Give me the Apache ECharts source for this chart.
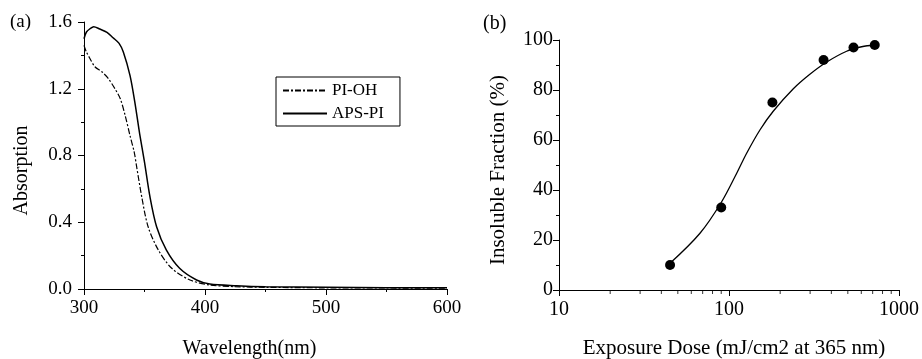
<!DOCTYPE html>
<html>
<head>
<meta charset="utf-8">
<script src="https://cdn.jsdelivr.net/npm/echarts@6/dist/echarts.min.js"></script>
<style>html,body{margin:0;padding:0;background:#fff}#c{width:922px;height:359px}</style>
</head>
<body>
<div id="c"></div>
<script>
// Panel (a): absorption spectra
var apsWavelength = [300, 302, 305, 308, 313, 319, 324, 329, 332.5, 338, 342, 346, 350, 354.5, 360, 368, 379, 393, 404, 426, 450, 500, 550, 600];
var apsAbsorption = [1.50, 1.54, 1.56, 1.572, 1.558, 1.538, 1.506, 1.472, 1.42, 1.28, 1.12, 0.93, 0.76, 0.553, 0.373, 0.234, 0.124, 0.054, 0.030, 0.020, 0.014, 0.010, 0.008, 0.008];
var pohWavelength = [300, 302, 305, 309, 315, 320, 325.6, 330, 334, 338, 341.5, 343.5, 347.7, 353, 361.4, 372.5, 387.6, 404, 425, 450, 500, 550, 600];
var pohAbsorption = [1.46, 1.42, 1.38, 1.332, 1.30, 1.262, 1.20, 1.14, 1.04, 0.92, 0.82, 0.733, 0.553, 0.373, 0.234, 0.124, 0.054, 0.024, 0.014, 0.010, 0.007, 0.006, 0.005];

// Panel (b): insoluble fraction vs exposure dose
var doseMeasured = [45, 90, 180, 360, 540, 720];
var fractionMeasured = [10, 33, 75, 92, 97, 98];
var doseFit = [45, 67.5, 90, 111, 127, 152, 182, 239, 299, 376, 492, 603, 720];
var fractionFit = [10.7, 22.7, 35, 46.7, 54.7, 64, 71.5, 80.5, 86.3, 91.2, 95.5, 97.3, 98];
var logMinorTicks = [20, 30, 40, 50, 60, 70, 80, 90, 200, 300, 400, 500, 600, 700, 800, 900];

function zip(a, b) { return a.map(function (v, i) { return [v, b[i]]; }); }

var FONT = 'Liberation Serif';
var black = '#000';
function axisCommon(fs) {
  return {
    axisLine: { show: true, onZero: false, lineStyle: { color: black, width: 1 } },
    axisTick: { show: true, inside: false, length: 6, lineStyle: { color: black, width: 1 } },
    minorTick: { show: true, splitNumber: 2, length: 3, lineStyle: { color: black, width: 1 } },
    splitLine: { show: false },
    minorSplitLine: { show: false },
    axisLabel: { color: black, fontFamily: FONT, fontSize: fs },
    nameTextStyle: { color: black, fontFamily: FONT, fontSize: fs + 1 },
    nameLocation: 'middle'
  };
}
function merge(a, b) { for (var k in b) a[k] = b[k]; return a; }

var chart = echarts.init(document.getElementById('c'), null, { renderer: 'canvas' });
var option = {
  backgroundColor: '#fff',
  animation: false,
  grid: [
    { left: 84, top: 22, width: 363, height: 267, containLabel: false, outerBoundsMode: 'none' },
    { left: 559, top: 40, width: 340, height: 250, containLabel: false, outerBoundsMode: 'none' }
  ],
  legend: {
    left: 276, top: 77,
    orient: 'vertical',
    data: ['PI-OH', 'APS-PI'],
    borderColor: black, borderWidth: 1, borderRadius: 0,
    padding: [5, 16, 4, 6],
    itemWidth: 44, itemHeight: 10, itemGap: 6,
    itemStyle: { color: 'rgba(0,0,0,0)', borderColor: 'rgba(0,0,0,0)', borderWidth: 0 },
    textStyle: { color: black, fontFamily: FONT, fontSize: 17 }
  },
  graphic: [
    { type: 'text', left: 10, top: 13, style: { text: '(a)', fill: black, font: '19px "Liberation Serif"' } },
    { type: 'text', left: 483, top: 14, style: { text: '(b)', fill: black, font: '20px "Liberation Serif"' } }
  ],
  xAxis: [
    merge(axisCommon(19), {
      type: 'value', gridIndex: 0, min: 300, max: 600, interval: 100,
      name: 'Wavelength(nm)', nameGap: 50,
      nameTextStyle: { color: black, fontFamily: FONT, fontSize: 20, padding: [0, 32, 0, 0] },
      axisLabel: { color: black, fontFamily: FONT, fontSize: 19, margin: 10 }
    }),
    merge(axisCommon(20), {
      type: 'log', logBase: 10, gridIndex: 1, min: 10, max: 1000,
      name: 'Exposure Dose (mJ/cm2 at 365 nm)', nameGap: 48,
      nameTextStyle: { color: black, fontFamily: FONT, fontSize: 21, padding: [0, 0, 0, 10] },
      minorTick: { show: false },
      axisLabel: { color: black, fontFamily: FONT, fontSize: 20, margin: 10,
        formatter: function (v) { return String(v); } }
    })
  ],
  yAxis: [
    merge(axisCommon(19), {
      type: 'value', gridIndex: 0, min: 0, max: 1.6, interval: 0.4,
      name: 'Absorption', nameGap: 52,
      nameTextStyle: { color: black, fontFamily: FONT, fontSize: 20, padding: [0, 30, 0, 0] },
      axisLabel: { color: black, fontFamily: FONT, fontSize: 19, margin: 12,
        formatter: function (v) { return v.toFixed(1); } }
    }),
    merge(axisCommon(20), {
      type: 'value', gridIndex: 1, min: 0, max: 100, interval: 20,
      name: 'Insoluble Fraction (%)', nameGap: 50,
      nameTextStyle: { color: black, fontFamily: FONT, fontSize: 21, padding: [0, 10, 0, 0] },
      axisLabel: { color: black, fontFamily: FONT, fontSize: 20, margin: 6 }
    })
  ],
  series: [
    {
      name: 'PI-OH', type: 'line', xAxisIndex: 0, yAxisIndex: 0,
      data: zip(pohWavelength, pohAbsorption), showSymbol: false, symbol: 'none',
      smooth: 0.3, color: black,
      lineStyle: { color: black, width: 1.2, type: [6, 2, 2, 2] }
    },
    {
      name: 'APS-PI', type: 'line', xAxisIndex: 0, yAxisIndex: 0,
      data: zip(apsWavelength, apsAbsorption), showSymbol: false, symbol: 'none',
      smooth: 0.3, color: black,
      lineStyle: { color: black, width: 1.5, type: 'solid' }
    },
    {
      name: 'fit', type: 'line', xAxisIndex: 1, yAxisIndex: 1,
      data: zip(doseFit, fractionFit), showSymbol: false, symbol: 'none',
      smooth: 0.35, color: black,
      lineStyle: { color: black, width: 1.3 }
    },
    {
      name: 'measured', type: 'scatter', xAxisIndex: 1, yAxisIndex: 1,
      data: zip(doseMeasured, fractionMeasured), symbol: 'circle', symbolSize: 10,
      itemStyle: { color: black, opacity: 1 }, z: 5
    },
    {
      name: 'logMinor', type: 'scatter', xAxisIndex: 1, yAxisIndex: 1,
      data: logMinorTicks.map(function (v) { return [v, 0]; }),
      symbol: 'rect', symbolSize: [1, 4], symbolOffset: [0, 2], clip: false,
      itemStyle: { color: black }, silent: true, z: 6
    }
  ]
};
chart.setOption(option);
</script>
</body>
</html>
